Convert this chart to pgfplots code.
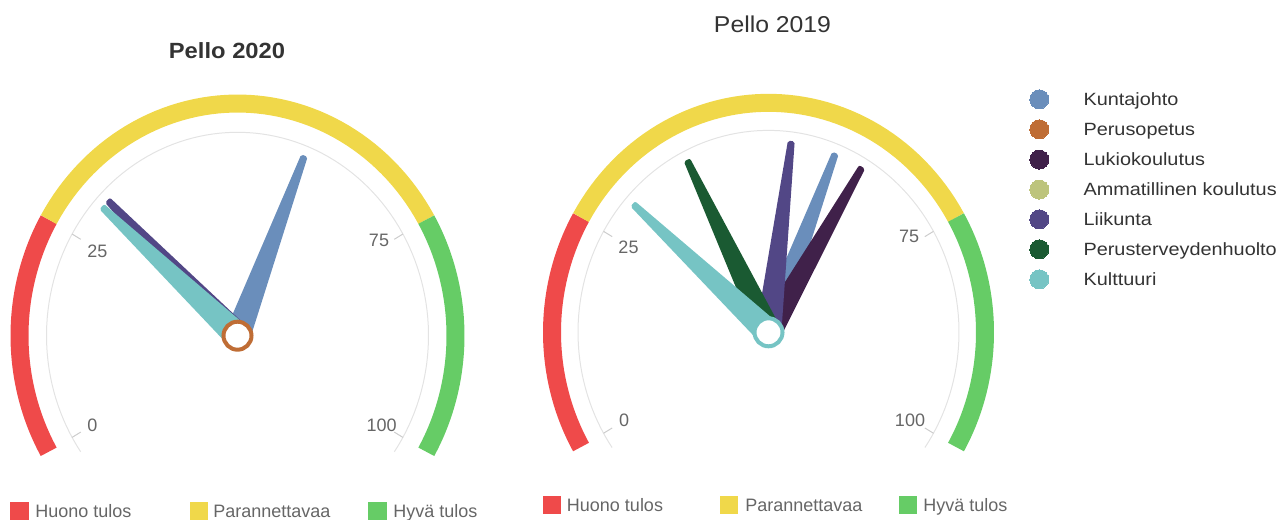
\documentclass[border=0pt]{standalone}
\usepackage{pgfplots}
\pgfplotsset{compat=1.18}
\usepackage{fontspec}
\setmainfont{Liberation Sans}
\newfontfamily\legfont[FakeStretch=1.12]{Liberation Sans}
\newfontfamily\titlefont[FakeStretch=1.08]{Liberation Sans}
\definecolor{cRed}{HTML}{EF4A4A}
\definecolor{cYel}{HTML}{F0D84A}
\definecolor{cGrn}{HTML}{66CC66}
\definecolor{cKunta}{HTML}{6A8EBB}
\definecolor{cPeru}{HTML}{BF6D35}
\definecolor{cLukio}{HTML}{40214A}
\definecolor{cAmm}{HTML}{BDC47C}
\definecolor{cLiik}{HTML}{524786}
\definecolor{cPter}{HTML}{1A5A32}
\definecolor{cKult}{HTML}{76C4C4}
\definecolor{cAxis}{HTML}{E3E3E3}
\definecolor{cTick}{HTML}{CCCCCC}
\definecolor{cLab}{HTML}{666666}
\definecolor{cTitle}{HTML}{333333}

% needle: #1 cx, #2 cy, #3 y-stretch, #4 value (0..100), #5 colour
\newcommand\needle[5]{%
  \pgfmathsetmacro\na{(#4-50)*2.4}%
  \pgfmathsetmacro\ns{sin(\na)}%
  \pgfmathsetmacro\nc{cos(\na)}%
  \pgfmathsetmacro\xa{#1+(-3)*(\ns)+11*(\nc)}%
  \pgfmathsetmacro\ya{#2-#3*((-3)*(\nc)-11*(\ns))}%
  \pgfmathsetmacro\xb{#1+180*(\ns)+1.5*(\nc)}%
  \pgfmathsetmacro\yb{#2-#3*(180*(\nc)-1.5*(\ns))}%
  \pgfmathsetmacro\xc{#1+180*(\ns)-1.5*(\nc)}%
  \pgfmathsetmacro\yc{#2-#3*(180*(\nc)+1.5*(\ns))}%
  \pgfmathsetmacro\xd{#1+(-3)*(\ns)-11*(\nc)}%
  \pgfmathsetmacro\yd{#2-#3*((-3)*(\nc)+11*(\ns))}%
  \edef\temp{\noexpand\addplot[fill=#5, draw=#5, line width=3pt, line join=round]
    coordinates {(\xa,\ya) (\xb,\yb) (\xc,\yc) (\xd,\yd) (\xa,\ya)};}%
  \temp
}
% band: #1 cx, #2 cy, #3 y-stretch, #4 radius, #5 from, #6 to, #7 colour
\newcommand\band[7]{%
  \addplot[domain=#5:#6, samples=60, variable=\v, line width=13.5pt, draw=#7]
    ({#1+#4*sin((\v-50)*2.4)}, {#2-#3*#4*cos((\v-50)*2.4)});
}
\newcommand\gaxis[5]{% cx cy k R
  \addplot[domain=-2:102, samples=120, variable=\v, line width=0.75pt, draw=cAxis]
    ({#1+#4*sin((\v-50)*2.4)}, {#2-#3*#4*cos((\v-50)*2.4)});
  \foreach \t in {0,25,75,100}{%
    \edef\temp{\noexpand\addplot[domain=#4-10:#4, samples=2, variable=\noexpand\r, line width=0.75pt, draw=cTick]
      ({#1+\noexpand\r*sin((\t-50)*2.4)}, {#2-#3*\noexpand\r*cos((\t-50)*2.4)});}\temp
  }
}
\newcommand\legmark[4]{% mark, size, colour, coords
  \addplot[only marks, mark=#1, mark size=#2, mark options={draw=#3, fill=#3, line width=0pt}] coordinates {#4};
}

\begin{document}
\begin{tikzpicture}
\begin{axis}[name=ax, x=0.75pt, y=0.75pt, y dir=reverse,
  xmin=0, xmax=1288, ymin=0, ymax=520, hide axis, clip=false]

% ---------- Left gauge: Pello 2020 ----------
\gaxis{237.5}{335.7}{1.065}{191}{}
\band{237.5}{335.7}{1.065}{218}{0}{25}{cRed}
\band{237.5}{335.7}{1.065}{218}{25}{75}{cYel}
\band{237.5}{335.7}{1.065}{218}{75}{100}{cGrn}
\needle{237.5}{335.7}{1.065}{59.0}{cKunta}
\needle{237.5}{335.7}{1.065}{31.0}{cLiik}
\needle{237.5}{335.7}{1.065}{29.9}{cKult}
\addplot[only marks, mark=*, mark size=10.5pt, mark options={fill=white, draw=cPeru, line width=3pt}]
  coordinates {(237.5,335.7)};

% ---------- Right gauge: Pello 2019 ----------
\gaxis{768.5}{332.3}{1.06}{190.5}{}
\band{768.5}{332.3}{1.06}{216.5}{0}{25}{cRed}
\band{768.5}{332.3}{1.06}{216.5}{25}{75}{cYel}
\band{768.5}{332.3}{1.06}{216.5}{75}{100}{cGrn}
\needle{768.5}{332.3}{1.06}{59.0}{cKunta}
\needle{768.5}{332.3}{1.06}{62.9}{cLukio}
\needle{768.5}{332.3}{1.06}{53.0}{cLiik}
\needle{768.5}{332.3}{1.06}{38.9}{cPter}
\needle{768.5}{332.3}{1.06}{29.9}{cKult}
\addplot[only marks, mark=*, mark size=10.5pt, mark options={fill=white, draw=cKult, line width=3pt}]
  coordinates {(768.5,332.3)};

% ---------- tick labels ----------
\begin{scope}[every node/.style={inner sep=0pt, text=cLab, font=\fontsize{13.5pt}{15pt}\selectfont}]
\node at (axis cs:92.3,425) {0};
\node at (axis cs:97.3,251.7) {25};
\node at (axis cs:379,240) {75};
\node at (axis cs:381.7,425) {100};
\node at (axis cs:624,420) {0};
\node at (axis cs:628.5,247.5) {25};
\node at (axis cs:909,236.5) {75};
\node at (axis cs:910,420) {100};
\end{scope}

% ---------- titles ----------
\node[inner sep=0pt, text=cTitle, font=\titlefont\bfseries\fontsize{16.5pt}{18pt}\selectfont] at (axis cs:227,50.5) {Pello 2020};
\node[inner sep=0pt, text=cTitle, font=\titlefont\fontsize{17.2pt}{19pt}\selectfont] at (axis cs:772.5,24.5) {Pello 2019};

% ---------- right legend ----------
\legmark{*}{7.1pt}{cKunta}{(1039.3,99.3)}
\legmark{*}{7.1pt}{cPeru}{(1039.3,129.3)}
\legmark{*}{7.1pt}{cLukio}{(1039.3,159.6)}
\legmark{*}{7.1pt}{cAmm}{(1039.3,189.6)}
\legmark{*}{7.1pt}{cLiik}{(1039.3,219.3)}
\legmark{*}{7.1pt}{cPter}{(1039.3,249.3)}
\legmark{*}{7.1pt}{cKult}{(1039.3,279.3)}
\begin{scope}[every node/.style={inner sep=0pt, anchor=base west, text=cTitle, font=\legfont\fontsize{13.3pt}{15pt}\selectfont}]
\node at (axis cs:1083.3,105.7) {Kuntajohto};
\node at (axis cs:1083.3,135.7) {Perusopetus};
\node at (axis cs:1083.3,166.0) {Lukiokoulutus};
\node at (axis cs:1083.3,196.0) {Ammatillinen koulutus};
\node at (axis cs:1083.3,225.7) {Liikunta};
\node at (axis cs:1083.3,255.7) {Perusterveydenhuolto};
\node at (axis cs:1083.3,285.7) {Kulttuuri};
\end{scope}

% ---------- bottom legends ----------
\legmark{square*}{6.4pt}{cRed}{(19.5,511)}
\legmark{square*}{6.4pt}{cYel}{(199,511)}
\legmark{square*}{6.4pt}{cGrn}{(377.5,511)}
\legmark{square*}{6.4pt}{cRed}{(551.7,505)}
\legmark{square*}{6.4pt}{cYel}{(729,505)}
\legmark{square*}{6.4pt}{cGrn}{(908.3,505)}
\begin{scope}[every node/.style={inner sep=0pt, anchor=base west, text=cLab, font=\fontsize{13.5pt}{15pt}\selectfont}]
\node at (axis cs:35,517.5) {Huono tulos};
\node at (axis cs:213,517.5) {Parannettavaa};
\node at (axis cs:393,517.5) {Hyvä tulos};
\node at (axis cs:566.7,511.5) {Huono tulos};
\node at (axis cs:745,511.5) {Parannettavaa};
\node at (axis cs:923,511.5) {Hyvä tulos};
\end{scope}
\end{axis}
\pgfresetboundingbox
\path[use as bounding box] (ax.south west) rectangle (ax.north east);
\end{tikzpicture}
\end{document}
